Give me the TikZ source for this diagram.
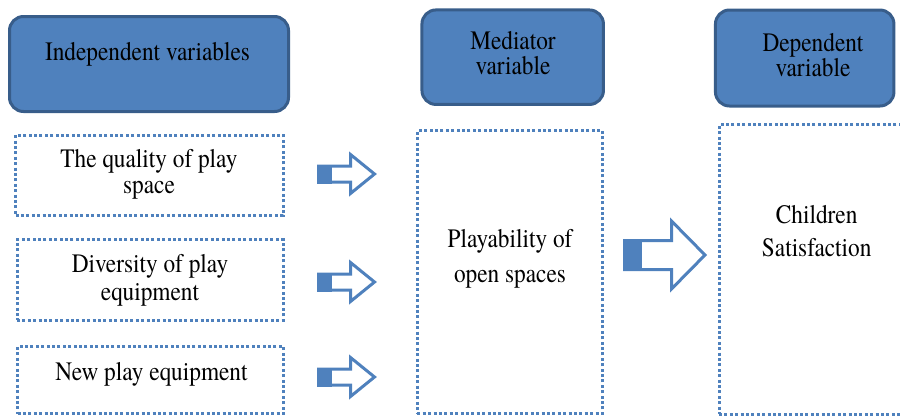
\documentclass[tikz,border=0pt]{standalone}
\usepackage{fontspec}
\setmainfont{texgyretermes}[Extension=.otf, UprightFont=*-regular, BoldFont=*-bold]
\definecolor{boxblue}{HTML}{4F81BD}
\definecolor{edgeblue}{HTML}{385D8A}
\tikzset{
  hdrbox/.style={draw=edgeblue, fill=boxblue, line width=3pt, rounded corners=14pt, inner sep=0pt},
  dotbox/.style={draw=boxblue, line width=3pt, dash pattern=on 3pt off 2.4pt, inner sep=0pt},
  lbl/.style={align=center, inner sep=0pt, text=black, yscale=1.14},
  blockarr/.style={draw=boxblue, line width=3pt, fill=white},
}

\begin{document}
\begin{tikzpicture}[x=1pt,y=-1pt]
  \useasboundingbox (0,0) rectangle (900,416);

  % header boxes
  \node[hdrbox, minimum width=279pt, minimum height=95pt] (indep) at (149,64) {};
  \node[hdrbox, minimum width=181.5pt, minimum height=94.5pt] (medhdr) at (512.7,57.2) {};
  \node[hdrbox, minimum width=178.5pt, minimum height=96pt] (dephdr) at (804.7,58) {};

  \node[lbl, anchor=base, font=\fontsize{23.3}{22}\selectfont] (indeptxt) at (147.5,60) {Independent variables};
  \node[lbl, font=\fontsize{23.3}{22}\selectfont] (medtxt) at (513,53.5) {Mediator\\variable};
  \node[lbl, font=\fontsize{23.3}{22}\selectfont] (deptxt) at (813,55.5) {Dependent\\variable};

  % dotted boxes
  \node[dotbox, minimum width=267.5pt, minimum height=80.5pt] (quality) at (149.3,175.3) {};
  \node[dotbox, minimum width=266pt, minimum height=80.5pt] (diversity) at (150,280) {};
  \node[dotbox, minimum width=266pt, minimum height=67pt] (newequip) at (150.5,380) {};
  \node[dotbox, minimum width=185pt, minimum height=282.5pt] (playab) at (509.8,272.2) {};
  \node[dotbox, minimum width=195pt, minimum height=289.5pt] (satisf) at (816.5,269.7) {};

  \node[lbl, font=\fontsize{23.3}{22.8}\selectfont] (qualitytxt) at (149,174.8) {The quality of play\\space};
  \node[lbl, font=\fontsize{23.3}{23.7}\selectfont] (diversitytxt) at (150,280.3) {Diversity of play\\equipment};
  \node[lbl, anchor=base, font=\fontsize{23.3}{22}\selectfont] (newequiptxt) at (151.5,380) {New play equipment};
  \node[lbl, font=\fontsize{23.3}{30.7}\selectfont] (playabtxt) at (510,259.3) {Playability of\\open spaces};
  \node[lbl, font=\fontsize{23.3}{28.7}\selectfont] (satisftxt) at (816.7,231.3) {Children\\Satisfaction};

  % block arrows
  \foreach \yc in {174,282,377} {
    \begin{scope}[shift={(318.5,\yc)}]
      \draw[blockarr] (0,-8) -- (32,-8) -- (32,-19.5) -- (56,0) -- (32,19.5) -- (32,8) -- (0,8) -- cycle;
      \filldraw[draw=boxblue, fill=boxblue, line width=3pt] (0,-8) rectangle (11.5,8);
    \end{scope}
  }
  \begin{scope}[shift={(624.5,255)}]
    \draw[blockarr] (0,-14.5) -- (47,-14.5) -- (47,-34) -- (80.5,0) -- (47,34) -- (47,14.5) -- (0,14.5) -- cycle;
    \filldraw[draw=boxblue, fill=boxblue, line width=3pt] (0,-14.5) rectangle (16,14.5);
  \end{scope}
\end{tikzpicture}
\end{document}
